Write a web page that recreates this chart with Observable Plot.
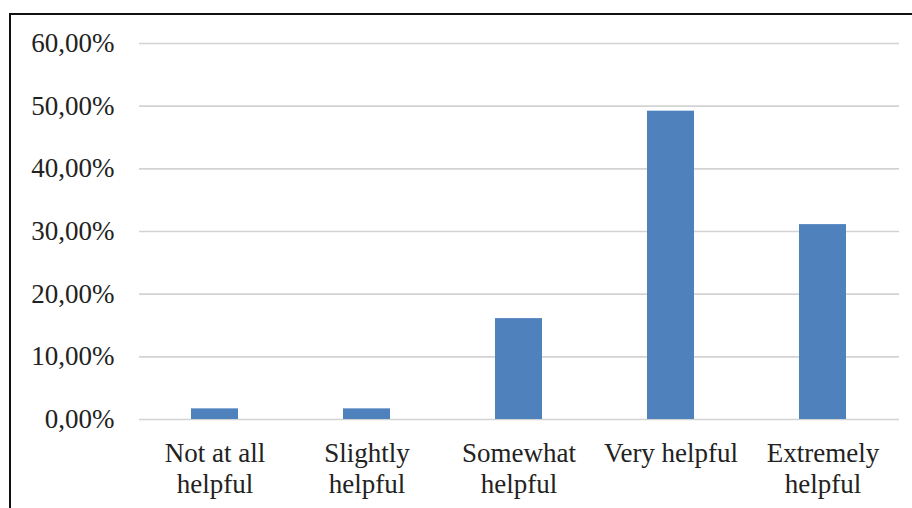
<!DOCTYPE html>
<html>
<head>
<meta charset="utf-8">
<script src="https://cdn.jsdelivr.net/npm/d3@7"></script>
<script src="https://cdn.jsdelivr.net/npm/@observablehq/plot@0.6"></script>
<style>
  html, body { margin: 0; padding: 0; background: #fff; overflow: hidden; }
  #wrap { position: relative; width: 912px; height: 508px; }
  #frame { position: absolute; left: 9px; top: 13px; width: 1000px; height: 600px;
           border-left: 2px solid #111; border-top: 2px solid #111; pointer-events: none; }
</style>
</head>
<body>
<div id="wrap"><div id="frame"></div></div>
<script>
const categories = ["Not at all\nhelpful", "Slightly\nhelpful", "Somewhat\nhelpful", "Very helpful", "Extremely\nhelpful"];
const values = [1.7, 1.7, 16.1, 49.2, 31.1];
const yTicks = [0, 10, 20, 30, 40, 50, 60];

const data = categories.map((c, i) => ({category: c, value: values[i]}));
const fmt = v => v.toFixed(2).replace(".", ",") + "%";

const chart = Plot.plot({
  width: 912,
  height: 508,
  marginLeft: 139,
  marginRight: 13,
  marginTop: 43,
  marginBottom: 89,
  style: {fontFamily: "'Liberation Serif', serif", fontSize: "27px", color: "#222", background: "transparent"},
  x: {domain: categories, paddingInner: 0.69, paddingOuter: 0.345, label: null},
  y: {domain: [0, 60], ticks: yTicks, label: null},
  marks: [
    Plot.gridY(yTicks, {stroke: "#d3d3d3", strokeOpacity: 1, strokeWidth: 1.6}),
    Plot.barY(data, {x: "category", y: "value", fill: "#4f81bd"}),
    Plot.axisY(yTicks, {tickSize: 0, tickPadding: 25, tickFormat: fmt, fontSize: 27, label: null}),
    Plot.axisX({tickSize: 0, tickPadding: 20, fontSize: 27, lineHeight: 1.15, label: null})
  ]
});
document.getElementById("wrap").prepend(chart);
</script>
</body>
</html>
